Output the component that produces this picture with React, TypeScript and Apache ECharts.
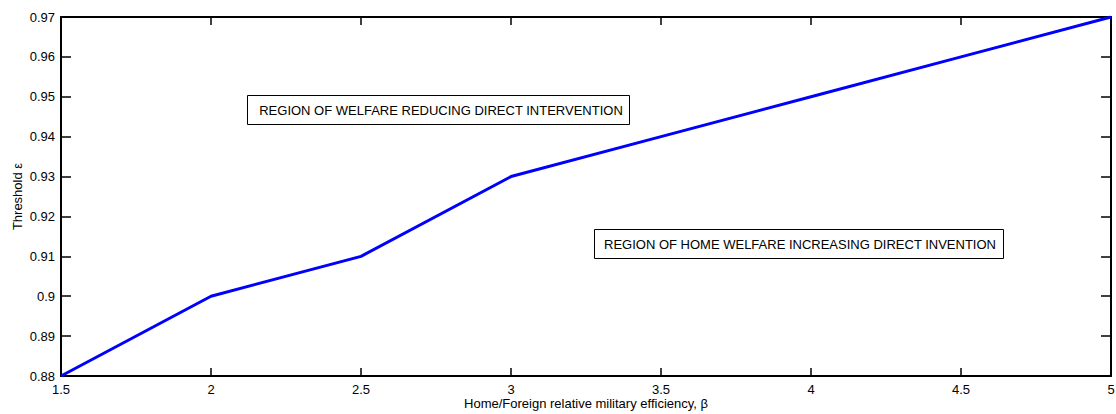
import React, { useEffect, useRef } from "react";
import * as echarts from "echarts";

const beta = [1.5, 2, 2.5, 3, 3.5, 4, 4.5, 5];
const threshold = [0.88, 0.9, 0.91, 0.93, 0.94, 0.95, 0.96, 0.97];
const xTitle = "Home/Foreign relative military efficiency, β";
const yTitle = "Threshold ε";
const regionUpper = "REGION OF WELFARE REDUCING DIRECT INTERVENTION";
const regionLower = "REGION OF HOME WELFARE INCREASING DIRECT INVENTION";

const FONT = "Liberation Sans, Arial, Helvetica, sans-serif";
const FS = 13;

export default function App() {
  const ref = useRef<HTMLDivElement>(null);
  useEffect(() => {
    document.body.style.margin = "0";
    const chart = echarts.init(ref.current!, null, { renderer: "svg" });
    const axisLine = { show: true, onZero: false, lineStyle: { color: "#000", width: 2 } };
    const tickStyle = { color: "#000", width: 1.5 };
    chart.setOption({
      animation: false,
      backgroundColor: "#fff",
      textStyle: { fontFamily: FONT },
      grid: { left: 61, right: 5, top: 17, bottom: 38, containLabel: false, outerBoundsMode: "none" },
      xAxis: [
        {
          type: "value",
          min: 1.5,
          max: 5,
          interval: 0.5,
          position: "bottom",
          axisLine,
          axisTick: { show: true, inside: true, length: 8, lineStyle: tickStyle },
          axisLabel: { color: "#000", fontSize: FS, margin: 7, fontFamily: FONT, formatter: (v: number) => String(v) },
          splitLine: { show: false },
          name: xTitle,
          nameLocation: "middle",
          nameGap: 21,
          nameMoveOverlap: false,
          nameTextStyle: { color: "#000", fontSize: FS, fontFamily: FONT },
        },
        {
          type: "value",
          min: 1.5,
          max: 5,
          interval: 0.5,
          position: "top",
          axisLine,
          axisTick: { show: true, inside: true, length: 8, lineStyle: tickStyle },
          axisLabel: { show: false },
          splitLine: { show: false },
        },
      ],
      yAxis: [
        {
          type: "value",
          min: 0.88,
          max: 0.97,
          interval: 0.01,
          position: "left",
          axisLine,
          axisTick: { show: true, inside: true, length: 10, lineStyle: tickStyle },
          axisLabel: { color: "#000", fontSize: FS, margin: 6, fontFamily: FONT, formatter: (v: number) => v.toFixed(2).replace(/0$/, "").replace(/\.$/, "") },
          splitLine: { show: false },
          name: yTitle,
          nameLocation: "middle",
          nameGap: 37,
          nameMoveOverlap: false,
          nameTextStyle: { color: "#000", fontSize: FS, fontFamily: FONT },
        },
        {
          type: "value",
          min: 0.88,
          max: 0.97,
          interval: 0.01,
          position: "right",
          axisLine,
          axisTick: { show: true, inside: true, length: 10, lineStyle: tickStyle },
          axisLabel: { show: false },
          splitLine: { show: false },
        },
      ],
      series: [
        {
          type: "line",
          data: beta.map((b, i) => [b, threshold[i]]),
          showSymbol: false,
          symbol: "none",
          lineStyle: { color: "#0000ff", width: 3 },
          z: 3,
        },
      ],
      graphic: [
        {
          type: "rect",
          shape: { x: 247.5, y: 95.5, width: 382, height: 29 },
          style: { fill: "#fff", stroke: "#000", lineWidth: 1 },
          z: 10,
        },
        {
          type: "text",
          x: 441,
          y: 110,
          style: { text: regionUpper, fontSize: FS, fontFamily: FONT, fill: "#000", align: "center", verticalAlign: "middle" },
          z: 11,
        },
        {
          type: "rect",
          shape: { x: 594.5, y: 229.5, width: 409, height: 29 },
          style: { fill: "#fff", stroke: "#000", lineWidth: 1 },
          z: 10,
        },
        {
          type: "text",
          x: 800,
          y: 244,
          style: { text: regionLower, fontSize: FS, fontFamily: FONT, fill: "#000", align: "center", verticalAlign: "middle" },
          z: 11,
        },
      ],
    });
    return () => chart.dispose();
  }, []);
  return <div ref={ref} style={{ width: 1116, height: 414 }} />;
}
